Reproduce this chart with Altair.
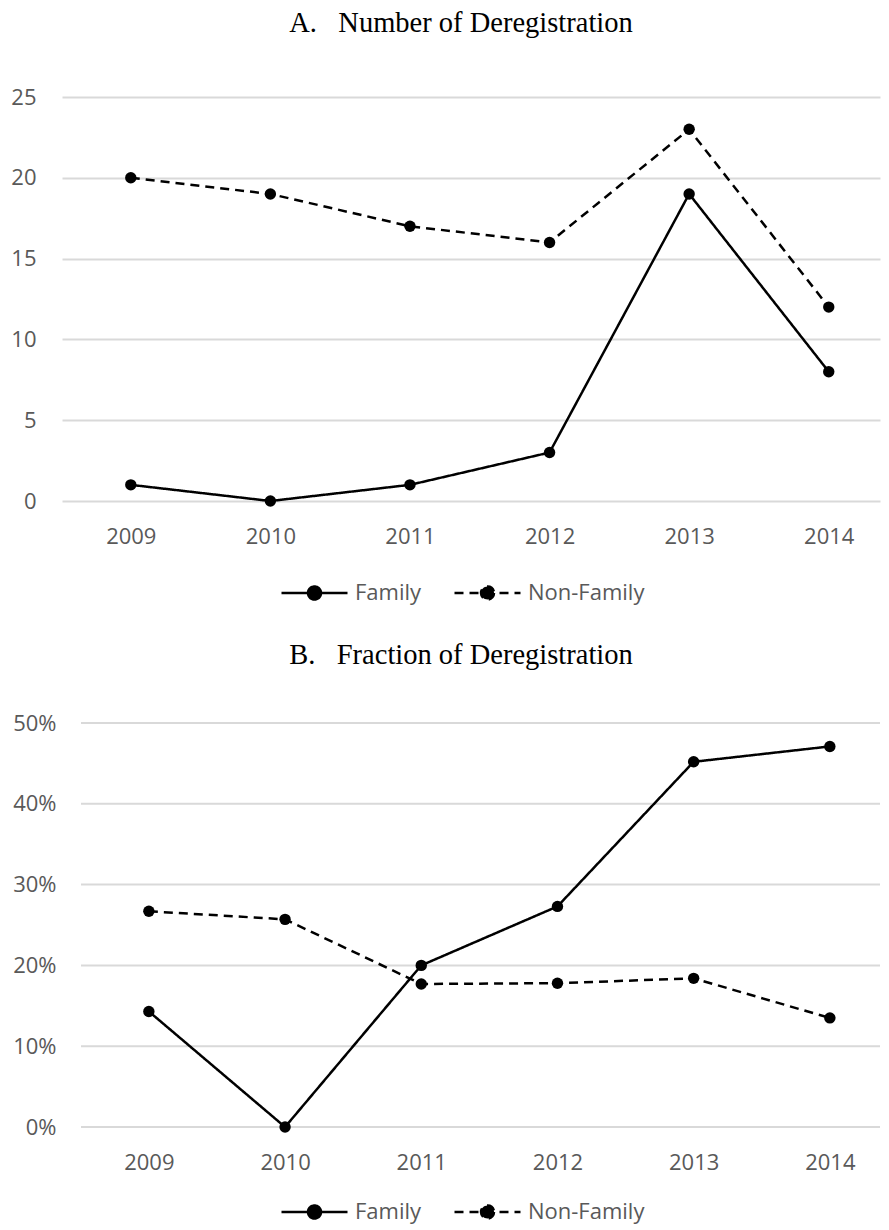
import altair as alt
import pandas as pd

years = ["2009", "2010", "2011", "2012", "2013", "2014"]
series = ["Family", "Non-Family"]
family_count = [1, 0, 1, 3, 19, 8]
nonfamily_count = [20, 19, 17, 16, 23, 12]
family_frac = [0.143, 0.0, 0.200, 0.273, 0.452, 0.471]
nonfamily_frac = [0.267, 0.257, 0.177, 0.178, 0.184, 0.135]
count_ticks = [0, 5, 10, 15, 20, 25]
frac_ticks = [0.0, 0.1, 0.2, 0.3, 0.4, 0.5]

W = 818
H = 404
NB = "\u00a0"
LEGEND_SYMBOL = ("M-1,0L1,0M0.197,0A0.197,0.197,0,1,1,-0.197,0"
                 "A0.197,0.197,0,1,1,0.197,0Z")


def table(fam, non):
    rows = []
    for y, v in zip(years, fam):
        rows.append({"year": y, "series": series[0], "value": v})
    for y, v in zip(years, non):
        rows.append({"year": y, "series": series[1], "value": v})
    return pd.DataFrame(rows)


def panel(df, title, xpad, xalign, ydomain, yvalues, yfmt, lpad,
          title_offset, legend_y, grid_start=None):
    x = alt.X("year:O", title=None,
              scale=alt.Scale(type="point", padding=xpad, align=xalign),
              axis=alt.Axis(labelAngle=0, grid=False, domain=False, ticks=False,
                            labelPadding=25))
    yscale = alt.Scale(domain=ydomain, nice=False, zero=True)
    y = alt.Y("value:Q", title=None, scale=yscale,
              axis=alt.Axis(values=yvalues, format=yfmt, domain=False,
                            ticks=False, labelPadding=lpad,
                            grid=grid_start is None))
    base = alt.Chart(df)
    line = base.mark_line(color="black", strokeWidth=2.5).encode(
        x=x, y=y,
        strokeDash=alt.StrokeDash(
            "series:N",
            scale=alt.Scale(domain=series, range=[[1, 0], [9, 6]]),
            legend=alt.Legend(
                title=None, orient="none", direction="horizontal",
                legendX=218, legendY=legend_y,
                symbolType=LEGEND_SYMBOL, symbolSize=4356,
                symbolStrokeColor="black", symbolFillColor="black",
                symbolStrokeWidth=2.5, clipHeight=26,
                labelFont="Open Sans", labelFontSize=22,
                labelColor="#595959", labelOffset=6, columnPadding=31,
            ),
        ),
    )
    pts = base.mark_point(filled=True, color="black", size=130, opacity=1).encode(
        x=x, y=y, detail="series:N"
    )
    layers = [line, pts]
    if grid_start is not None:
        grid = alt.Chart(pd.DataFrame({"tick": yvalues})).mark_rule(
            color="#d9d9d9", strokeWidth=2
        ).encode(
            y=alt.Y("tick:Q", scale=yscale, title=None),
            x=alt.value(grid_start), x2=alt.value(W),
        )
        layers = [grid] + layers
    return alt.layer(*layers).properties(
        width=W, height=H,
        title=alt.TitleParams(
            title, font="Liberation Serif", fontSize=28.5, fontWeight="normal",
            color="black", anchor="middle", dx=-10, offset=title_offset,
            baseline="alphabetic",
        ),
    )


chart_a = panel(table(family_count, nonfamily_count),
                "A." + NB * 3 + "Number of Deregistration",
                0.430, 0.573, [0, 25], count_ticks, "d", 26, 26, 483)
chart_b = panel(table(family_frac, nonfamily_frac),
                "B." + NB * 3 + "Fraction of Deregistration",
                0.503, 0.634, [0, 0.5], frac_ticks, ".0%", 6, 20, 476,
                grid_start=19)

chart = alt.vconcat(chart_a, chart_b, spacing=34).resolve_scale(
    strokeDash="independent"
).resolve_legend(
    strokeDash="independent"
).properties(
    padding={"left": 2, "top": 0, "right": 0, "bottom": 0}
).configure_view(stroke=None).configure_axis(
    labelFont="Open Sans", labelFontSize=22, labelColor="#595959",
    gridColor="#d9d9d9", gridWidth=2,
)

chart.save("out.html", embed_options={"renderer": "svg", "actions": False})
